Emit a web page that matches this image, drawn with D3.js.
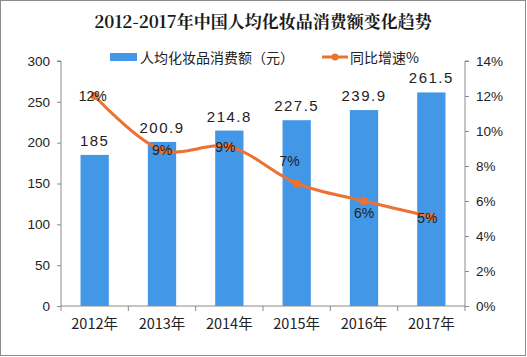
<!DOCTYPE html>
<html><head><meta charset="utf-8">
<script src="https://cdn.jsdelivr.net/npm/d3@7/dist/d3.min.js"></script>
<style>body{margin:0;background:#fff}svg{display:block}</style>
</head><body><svg id="c" width="527" height="357"></svg>
<script>
const categories = ["2012年","2013年","2014年","2015年","2016年","2017年"];
const spending = [185, 200.9, 214.8, 227.5, 239.9, 261.5];
const spendingLabels = ["185","200.9","214.8","227.5","239.9","261.5"];
const growth = [12, 8.9, 9.1, 7.0, 6.0, 5.1];
const growthLabels = ["12%","9%","9%","7%","6%","5%"];
const leftTicks = [0,50,100,150,200,250,300];
const rightTicks = [0,2,4,6,8,10,12,14];

const svg = d3.select("#c");
const font = "'Liberation Sans', 'Noto Sans CJK SC', sans-serif";
const cjk = "'Noto Sans CJK SC', sans-serif";
const axisColor = "#8a8a8a";
const M = {l:61, r:465, t:61, b:306};

svg.append("rect").attr("x",0.5).attr("y",0.5).attr("width",525).attr("height",355)
  .attr("fill","#fff").attr("stroke","#8c8c8c");

svg.append("text").attr("x",263).attr("y",28).attr("text-anchor","middle")
  .attr("font-family","'Noto Serif CJK SC','Noto Sans CJK SC',serif").attr("font-weight","bold")
  .attr("font-size",17).attr("fill","#1a1a1a").text("2012-2017年中国人均化妆品消费额变化趋势");

const x = d3.scaleBand().domain(categories).range([M.l,M.r]).paddingInner(0.58).paddingOuter(0.29);
const xb = d3.scaleBand().domain(categories).range([M.l,M.r]);
const yL = d3.scaleLinear().domain([0,300]).range([M.b,M.t]);
const yR = d3.scaleLinear().domain([0,14]).range([M.b,M.t]);

// legend
svg.append("rect").attr("x",110).attr("y",53).attr("width",27).attr("height",8).attr("fill","#4298e6");
svg.append("text").attr("x",140).attr("y",63).attr("font-family",cjk).attr("font-size",14)
  .attr("fill","#222").text("人均化妆品消费额（元）");
svg.append("line").attr("x1",322).attr("x2",348).attr("y1",57).attr("y2",57)
  .attr("stroke","#ed7133").attr("stroke-width",3);
svg.append("circle").attr("cx",335).attr("cy",57).attr("r",3.5).attr("fill","#ed7133");
svg.append("text").attr("x",350).attr("y",63).attr("font-family",cjk).attr("font-size",14)
  .attr("fill","#222").text("同比增速%");

// axes
const gl = svg.append("g").attr("transform",`translate(${M.l},0)`)
  .call(d3.axisLeft(yL).tickValues(leftTicks).tickSize(4).tickPadding(7));
const gr = svg.append("g").attr("transform",`translate(${M.r},0)`)
  .call(d3.axisRight(yR).tickValues(rightTicks).tickSize(4).tickFormat(d=>d+"%").tickPadding(7));
[gl,gr].forEach(g=>{
  g.selectAll("path,line").attr("stroke",axisColor);
  g.selectAll("text").attr("font-family",font).attr("font-size",13.5).attr("fill","#222");
});
gl.select(".domain").attr("d",`M-4,${M.t}H0V${M.b}`);
gr.select(".domain").attr("d",`M4,${M.t}H0V${M.b}`);

// bars
svg.append("g").selectAll("rect").data(spending).join("rect")
  .attr("x",(d,i)=>x(categories[i])).attr("width",x.bandwidth())
  .attr("y",d=>yL(d)).attr("height",d=>yL(0)-yL(d)).attr("fill","#4298e6");

// x axis
const gx = svg.append("g").attr("transform",`translate(0,${M.b})`);
gx.append("line").attr("x1",M.l).attr("x2",M.r).attr("stroke",axisColor);
gx.selectAll("line.t").data(d3.range(categories.length+1)).join("line").attr("class","t")
  .attr("x1",i=>M.l+i*xb.step()).attr("x2",i=>M.l+i*xb.step()).attr("y1",0).attr("y2",5).attr("stroke",axisColor);
gx.selectAll("text").data(categories).join("text")
  .attr("x",d=>xb(d)+xb.bandwidth()/2).attr("y",23).attr("text-anchor","middle")
  .attr("font-family",cjk).attr("font-size",14.5).attr("fill","#222").text(d=>d);

// bar labels
svg.append("g").selectAll("text").data(spending).join("text")
  .attr("x",(d,i)=>xb(categories[i])+xb.bandwidth()/2).attr("y",d=>yL(d)-9)
  .attr("text-anchor","middle").attr("font-family",font).attr("font-size",15)
  .attr("letter-spacing",1.5).attr("fill","#222").text((d,i)=>spendingLabels[i]);

// line
const pts = growth.map((g,i)=>[xb(categories[i])+xb.bandwidth()/2, yR(g)]);
svg.append("path").attr("d",d3.line().curve(d3.curveCatmullRom.alpha(0.5))(pts))
  .attr("fill","none").attr("stroke","#ed7133").attr("stroke-width",3);
svg.append("g").selectAll("circle").data(pts).join("circle")
  .attr("cx",d=>d[0]).attr("cy",d=>d[1]).attr("r",4).attr("fill","#ed7133");

const lblOff = [[-2,5],[0,5],[-4,5],[-7,-18],[0,17],[-4,6]];
svg.append("g").selectAll("text").data(pts).join("text")
  .attr("x",(d,i)=>d[0]+lblOff[i][0]).attr("y",(d,i)=>d[1]+lblOff[i][1])
  .attr("text-anchor","middle").attr("font-family",font).attr("font-size",14)
  .attr("fill","#222").text((d,i)=>growthLabels[i]);
</script></body></html>
